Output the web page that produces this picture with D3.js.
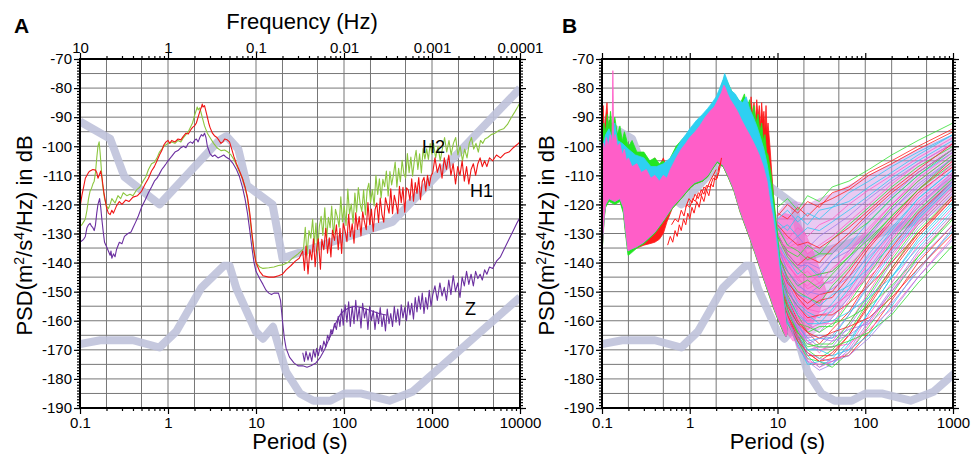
<!DOCTYPE html>
<html>
<head>
<meta charset="utf-8">
<script src="https://cdn.jsdelivr.net/npm/d3@7"></script>
<style>
  body { margin: 0; background: #fff; }
  svg { font-family: "Liberation Sans", Arial, Helvetica, sans-serif; }
</style>
</head>
<body>
<svg id="chart" width="971" height="456"></svg>
<script>
// ---- axis labels ----
const yTicks = [-190, -180, -170, -160, -150, -140, -130, -120, -110, -100, -90, -80, -70];
const periodTicksA = [0.1, 1, 10, 100, 1000, 10000];
const periodLabelsA = ['0.1', '1', '10', '100', '1000', '10000'];
const freqLabelsA = ['10', '1', '0.1', '0.01', '0.001', '0.0001'];
const periodTicksB = [0.1, 1, 10, 100, 1000];
const periodLabelsB = ['0.1', '1', '10', '100', '1000'];

// ---- Peterson noise models (period s, dB) ----
const nlnmPeriod = [0.1, 0.17, 0.4, 0.8, 1.24, 2.4, 4.3, 5, 6, 10, 12, 15.6, 21.9, 31.6, 45, 70, 101, 154, 328, 600, 10000];
const nlnmDb = [-168.0, -166.7, -166.7, -169.2, -163.7, -148.6, -141.1, -141.1, -149.0, -163.8, -166.2, -162.1, -177.5, -185.0, -187.5, -187.5, -185.0, -185.0, -187.5, -184.4, -151.9];
const nhnmPeriod = [0.1, 0.22, 0.32, 0.8, 3.8, 4.6, 6.3, 7.9, 15.4, 20, 354.8, 10000];
const nhnmDb = [-91.5, -97.4, -110.5, -120.0, -98.0, -96.5, -101.0, -113.5, -120.0, -138.5, -126.0, -80.1];

// ---- panel A: H1 (red) ----
const h1 = [[0.1,-121],[0.105,-117],[0.11,-114],[0.115,-111],[0.12,-110],[0.125,-109],[0.13,-108.5],[0.14,-108],[0.15,-108.2],[0.155,-109],[0.16,-111],[0.165,-110],[0.172,-108.5],[0.178,-111],[0.187,-116],[0.2,-121],[0.21,-123],[0.22,-123.5],[0.23,-122],[0.24,-123],[0.26,-120.5],[0.28,-119],[0.3,-120],[0.33,-118.5],[0.36,-119],[0.4,-117.5],[0.45,-117],[0.5,-115.5],[0.55,-113],[0.6,-111],[0.65,-108.5],[0.7,-107],[0.75,-105],[0.8,-103],[0.85,-101.5],[0.9,-99.5],[0.95,-98.5],[1.0,-98],[1.05,-99],[1.1,-98],[1.2,-98.5],[1.3,-97.5],[1.4,-97.8],[1.5,-96.5],[1.6,-95.5],[1.7,-95.8],[1.8,-94.5],[1.9,-93.5],[2.0,-93],[2.1,-92],[2.2,-90],[2.3,-88],[2.4,-86.5],[2.45,-85.5],[2.5,-86.5],[2.6,-86],[2.7,-88],[2.8,-90],[2.9,-92],[3.0,-93.5],[3.2,-95.5],[3.4,-96.5],[3.6,-97],[3.8,-98],[4.0,-99],[4.2,-98.5],[4.4,-97.5],[4.7,-97.8],[5.0,-98.5],[5.3,-101],[5.6,-103.5],[6.0,-106],[6.5,-108.5],[7.0,-111],[7.5,-114],[8.0,-117.5],[8.5,-123],[9.0,-130],[9.5,-136],[10,-140],[11,-143],[12,-144.5],[14,-145],[16,-145],[18,-144.5],[20,-144],[22,-142.5],[25,-141],[28,-139.5],[31,-138.5],
  [34,-136],[35.5,-142.7],[37,-134.3],[39,-143.9],[41,-135.5],[43,-139.1],[45,-131.8],[47,-141.4],[49,-135.1],[51,-131.8],[54,-142.3],[56,-132],[59,-135.6],[62,-128.2],[65,-136.8],[68,-131.5],[71,-138.1],[74,-128.8],[78,-132.4],[82,-127],[86,-135.6],[90,-128.2],[94,-136.9],[98,-126.5],[103,-129.1],[108,-132.8],[113,-123.4],[118,-131.1],[124,-126.7],[130,-133.3],[136,-122.9],[142,-128.6],[149,-124.2],[156,-130.8],[163,-122.5],[171,-126.1],[179,-128.7],[187,-119.4],[196,-127],[205,-121.6],[215,-129.3],[225,-121.9],[236,-119.5],[247,-126.2],[258,-117.8],[270,-123.4],[283,-126.1],[296,-117.7],[310,-120.3],[325,-123],[340,-114.6],[356,-123.2],[373,-116.9],[390,-119.5],[408,-123.2],[427,-113.8],[447,-119.4],[468,-114.1],[490,-122.7],[513,-114.3],[537,-115],[562,-118.6],[588,-111.2],[616,-118.9],[645,-112.5],[675,-116.2],[707,-110.8],[740,-118.4],[775,-112.1],[811,-110.7],[849,-115.4],[889,-110],[931,-113.6],[975,-110.3],
  [1020,-109],[1080,-104],[1150,-109],[1230,-106],[1300,-111],[1380,-104],[1460,-108],[1550,-103],[1640,-110],[1740,-106],[1850,-113],[1960,-107],[2080,-110],[2200,-105],[2330,-112],[2470,-107],[2620,-113],[2780,-108],[2950,-106],[3130,-110],[3320,-106],[3520,-104],[3730,-107],[3960,-105],[4200,-107],[4500,-104],[4900,-105],[5400,-103],[6000,-104],[6700,-102.5],[7500,-102],[8400,-100.5],[9200,-99.5],[10000,-98.5]];

// ---- panel A: H2 (green) ----
const h2 = [[0.1,-127.5],[0.105,-127],[0.11,-126],[0.115,-125],[0.12,-122],[0.125,-118],[0.13,-115.5],[0.135,-114.5],[0.14,-113],[0.145,-112],[0.15,-109],[0.155,-104],[0.16,-100],[0.165,-98.5],[0.169,-102],[0.174,-107],[0.18,-113],[0.19,-118],[0.2,-120.5],[0.21,-121.5],[0.22,-120],[0.23,-118],[0.25,-119.5],[0.27,-117],[0.29,-118],[0.31,-116],[0.34,-117],[0.37,-116.5],[0.4,-117],[0.44,-115],[0.48,-114],[0.52,-112],[0.56,-110.5],[0.6,-108],[0.65,-106],[0.7,-105.5],[0.75,-104],[0.8,-102],[0.85,-101],[0.9,-100],[0.95,-99.5],[1.0,-99],[1.1,-98.5],[1.2,-99],[1.3,-98],[1.4,-98.5],[1.5,-97],[1.6,-96],[1.7,-95],[1.8,-93.5],[1.9,-92],[2.0,-89.5],[2.1,-87.5],[2.15,-86.5],[2.2,-87.5],[2.3,-86.8],[2.4,-89],[2.5,-91],[2.6,-93],[2.8,-95.5],[3.0,-97],[3.3,-99],[3.6,-100.5],[4.0,-101.5],[4.4,-101.3],[4.8,-102],[5.2,-103],[5.6,-104.5],[6.0,-106.5],[6.5,-109],[7.0,-111],[7.5,-114],[8.0,-118],[8.5,-124],[9.0,-131],[9.5,-136.5],[10,-140],[11,-141.5],[12,-142],[14,-141.8],[16,-141.5],[18,-141],[20,-140.8],[23,-140],[26,-138.5],[30,-137],
  [34.7,-135.3],[36.3,-127.9],[38,-137.5],[40,-129],[42,-131.6],[44,-125.1],[46,-133.7],[48,-126.4],[50,-136],[52.5,-127.5],[55,-124.1],[57.5,-130.7],[60.5,-121.2],[63.5,-131.8],[66.5,-124.4],[69.5,-128],[72.5,-120.6],[76,-131.2],[80,-121.7],[84,-124.3],[88,-127.8],[92,-117.4],[96,-126],[100.5,-120.6],[105.5,-127.2],[110.5,-114.7],[115.5,-123.3],[121,-119.9],[127,-126.5],[133,-116.1],[139,-122.7],[145.5,-114.2],[152.5,-119.8],[159.5,-122.4],[167,-115],[175,-123.6],[183,-115.2],[191.5,-112.7],[200.5,-119.3],[210,-114.9],[220,-120.5],[230.5,-110],[241.5,-116.6],[252.5,-111.2],[264,-117.8],[276.5,-111.4],[289.5,-113.9],[303,-108.5],[317.5,-117.1],[332.5,-108.7],[348,-113.3],[364.5,-109.8],[381.5,-105.4],[399,-114],[417.5,-107.6],[437,-112.2],[457.5,-104.8],[479,-109.4],[501.5,-110.9],[525,-102.5],[549.5,-109.1],[575,-103.7],[602,-110.3],[630,-104.9],[660,-101.4],[691,-108],[723,-102.6],[757,-109.2],[793,-100.8],[830,-104.4],[869,-100.9],[910,-104.5],[953,-99.1],[998,-102.7],
  [1040,-99],[1100,-104],[1170,-100],[1240,-105],[1310,-101],[1390,-97],[1470,-102],[1560,-98],[1650,-103],[1750,-99],[1860,-97],[1970,-103],[2090,-100],[2220,-105],[2350,-101],[2500,-104],[2650,-99],[2810,-97],[2980,-101],[3160,-99],[3360,-102],[3560,-98],[3780,-99],[4000,-97.5],[4300,-97],[4700,-96],[5200,-95.5],[5800,-94.5],[6500,-94],[7200,-92.5],[8000,-90],[8800,-88],[9400,-86.5],[10000,-85]];

// ---- panel A: Z (purple), long-window trace and short-window trace ----
const zSmooth = [[0.1,-133],[0.105,-132.5],[0.11,-132],[0.115,-131],[0.12,-128],[0.125,-127],[0.13,-126.5],[0.135,-127.5],[0.14,-128],[0.145,-129],[0.15,-127],[0.155,-123],[0.16,-120],[0.167,-118],[0.172,-121],[0.177,-125],[0.183,-129],[0.19,-133],[0.2,-134.5],[0.21,-136],[0.22,-137.5],[0.225,-136],[0.23,-138.5],[0.24,-137],[0.25,-138],[0.26,-135.5],[0.28,-133],[0.3,-133.5],[0.32,-131],[0.35,-130],[0.38,-129.5],[0.4,-128],[0.43,-126],[0.46,-124],[0.5,-121],[0.55,-118.5],[0.6,-116],[0.65,-114],[0.7,-112],[0.75,-111],[0.8,-109.5],[0.85,-108],[0.9,-107],[0.95,-106],[1.0,-105],[1.1,-103.5],[1.2,-102],[1.3,-101.5],[1.4,-100.5],[1.5,-100],[1.6,-100.5],[1.7,-99],[1.8,-98.5],[1.9,-99],[2.0,-98],[2.1,-97.5],[2.2,-98.5],[2.3,-97],[2.4,-96],[2.5,-96.5],[2.6,-95.5],[2.7,-97],[2.8,-100],[3.0,-102.5],[3.2,-103.5],[3.4,-103],[3.7,-104],[4.0,-103.5],[4.3,-103],[4.6,-103.8],[5.0,-104.5],[5.5,-106],[6.0,-108],[6.5,-110.5],[7.0,-114],[7.5,-118],[8.0,-123],[8.5,-129],[9.0,-135],[9.5,-140],[10,-143],[11,-145.5],[12,-147.5],[13,-149.5],[14,-150.5],[15,-151],[16,-150.5],[17,-150.5],[18,-150.5],[19,-153],[20,-160],[21,-166],[22,-169.5],[24,-172.5],[27,-174.5],[30,-175.5],[34,-175.5],[38,-176],[42,-175.5],[48,-174.5],[54,-172.5],[60,-170],[66,-167],[72,-164.5],[80,-161],[90,-158],[100,-156.5],[115,-155.5],[135,-155],[160,-155.5],[200,-156.5],[250,-157.5],[300,-158]];
const zNoisy = [[34,-171],[35.5,-174],[37,-170.5],[39,-173.5],[41,-171],[43,-174],[45,-170],[47,-172.5],[49,-169.5],[51,-172],[54,-168.5],[56,-170.5],[59,-167],[62,-169],[65,-165],[68,-166.5],[71,-163],[74,-164.5],[78,-161],[82,-163],[86,-158.5],[90,-162],[94,-156],[98,-161.5],[103,-154.5],[108,-160.5],[113,-153.5],[118,-162],[124,-155],[130,-161],[136,-153],[142,-160],[149,-155.5],[156,-162.5],[163,-154],[171,-159],[179,-156],[187,-163],[196,-155],[205,-160],[215,-156.5],[225,-163],[236,-157],[247,-161],[258,-155.5],[270,-162],[283,-158],[296,-163.5],[310,-156],[325,-161],[340,-157.5],[356,-162],[373,-155],[390,-160.5],[408,-156],[427,-161.5],[447,-154.5],[468,-159],[490,-155.5],[513,-160],[537,-153.5],[562,-158],[588,-154],[616,-159.5],[645,-152],[675,-157],[707,-151.5],[740,-156],[775,-150.5],[811,-157.5],[849,-152],[889,-156],[931,-149.5],[975,-155],[1020,-151],[1080,-148],[1150,-153],[1230,-147],[1300,-151.5],[1380,-148.5],[1460,-153],[1550,-146],[1640,-151],[1740,-144.5],[1850,-150],[1960,-147],[2080,-152],[2200,-145],[2330,-148],[2470,-143],[2620,-147.5],[2780,-144],[2950,-148],[3130,-143],[3320,-145.5],[3520,-144],[3730,-146],[3960,-142.5],[4200,-144],[4500,-141.5],[4900,-142],[5400,-139.5],[6000,-138],[6700,-135],[7500,-132],[8400,-129],[9200,-126.5],[10000,-124.5]];

// ---- panel B: envelopes of the short-period blob (period s, dB) ----
const pinkTop = [[0.1,-103],[0.104,-99],[0.108,-101],[0.112,-97],[0.118,-100],[0.124,-96],[0.13,-99],[0.133,-74],[0.136,-98],[0.142,-96],[0.15,-100],[0.16,-99],[0.17,-103],[0.18,-101],[0.19,-105],[0.2,-104],[0.22,-107],[0.25,-106],[0.28,-109],[0.32,-108],[0.36,-111],[0.4,-110],[0.45,-112],[0.5,-110],[0.55,-111],[0.6,-108],[0.7,-104],[0.8,-101],[0.9,-99],[1.0,-97],[1.15,-95],[1.3,-93],[1.5,-90],[1.7,-88],[1.9,-86.5],[2.1,-84],[2.3,-81.5],[2.45,-79],[2.55,-80],[2.7,-82],[2.9,-84],[3.2,-86],[3.5,-88],[3.9,-91],[4.4,-94],[5.0,-97],[5.6,-100],[6.2,-103],[6.9,-107],[7.6,-112],[8.2,-119],[8.8,-124],[9.4,-130],[10,-137],[10.8,-145],[11.6,-153],[12.4,-160],[13,-164]];
const pinkBottom = [[0.1,-136],[0.103,-130],[0.106,-124],[0.11,-120],[0.12,-118],[0.14,-119],[0.16,-118],[0.175,-121],[0.185,-128],[0.198,-136],[0.21,-135.5],[0.25,-134.5],[0.3,-133],[0.4,-129.5],[0.5,-125.5],[0.63,-121],[0.8,-117.5],[1.0,-114],[1.14,-112.5],[1.4,-111.5],[1.6,-110],[1.8,-107.5],[2.05,-105],[2.4,-106.5],[2.73,-110],[3.2,-115],[3.74,-122],[4.3,-127],[4.87,-131.5],[5.5,-136],[6.32,-141.5],[7.2,-146.5],[8.2,-151.3],[9.1,-155.5],[10.1,-159],[11.5,-163],[12.5,-165.5],[13,-164]];
const cyanTop = [[0.1,-101],[0.11,-96],[0.12,-94],[0.13,-97],[0.14,-92],[0.15,-98],[0.17,-99],[0.2,-101],[0.24,-103],[0.3,-104],[0.36,-107],[0.42,-107],[0.5,-106],[0.6,-104],[0.7,-101],[0.8,-98],[0.9,-96],[1.0,-94],[1.2,-91],[1.4,-89],[1.6,-87],[1.8,-85],[2.0,-83],[2.2,-80],[2.4,-77],[2.5,-75],[2.65,-77],[2.8,-79],[3.0,-81],[3.3,-82],[3.6,-84],[4.0,-85],[4.4,-83],[4.8,-87],[5.3,-90],[5.8,-93],[6.4,-97],[7.0,-101],[7.6,-106],[8.2,-112],[8.8,-119],[9.4,-126],[10,-133],[10.8,-142],[11.6,-151],[12.4,-159],[13,-164]];
const greenTop = [[0.1,-99],[0.105,-92],[0.11,-95],[0.115,-89],[0.12,-94],[0.125,-88],[0.13,-93],[0.14,-90],[0.15,-96],[0.16,-93],[0.17,-98],[0.18,-95],[0.2,-100],[0.22,-98],[0.25,-102],[0.3,-102],[0.35,-105],[0.4,-104],[0.45,-106],[0.5,-105],[0.55,-107],[0.6,-104],[0.7,-100],[0.8,-98],[1.0,-95],[1.3,-91],[1.6,-88],[2.0,-84],[2.3,-79],[2.5,-76],[2.7,-78],[3.0,-81],[3.4,-83],[3.8,-85],[4.2,-82],[4.5,-87],[4.8,-84],[5.1,-90],[5.4,-86],[5.7,-92],[6.0,-89],[6.3,-95],[6.6,-92],[6.9,-98],[7.2,-96],[7.5,-102],[7.8,-103],[8.4,-109],[9.0,-117],[9.6,-125],[10.2,-133],[10.9,-142],[11.7,-151],[12.4,-159],[13,-164]];
const greenBottom = [[0.1,-137],[0.103,-131],[0.106,-125],[0.11,-121],[0.12,-119],[0.14,-120],[0.16,-119],[0.175,-123],[0.185,-130],[0.198,-137.5],[0.21,-137],[0.25,-135],[0.3,-133.5],[0.4,-130],[0.5,-126],[0.63,-121.5],[0.8,-118],[1.0,-114.5],[1.14,-113],[1.4,-112],[1.6,-110.5],[1.8,-108],[2.05,-105.5],[2.4,-107],[2.73,-110.5],[3.2,-115.5],[3.74,-122.5],[4.3,-127.5],[4.87,-132],[5.5,-136.5],[6.32,-142],[7.2,-147],[8.2,-152],[9.1,-156],[10.1,-159.5],[11.5,-163.5],[12.5,-165.5],[13,-164]];
const redTop = [[0.1,-97],[0.103,-86],[0.106,-95],[0.11,-90],[0.114,-85],[0.118,-94],[0.122,-91],[0.126,-97],[0.13,-92],[0.135,-99],[0.14,-94],[0.15,-99],[0.16,-95],[0.17,-100],[0.18,-97],[0.2,-102],[0.22,-100],[0.25,-104],[0.3,-103],[0.35,-106],[0.4,-104],[0.45,-107],[0.5,-104],[0.55,-108],[0.6,-105],[0.7,-101],[0.8,-99],[1.0,-96],[1.3,-92],[1.6,-89],[2.0,-85],[2.3,-80],[2.5,-77],[2.7,-79],[3.0,-82],[3.4,-84],[3.8,-86],[4.2,-84],[4.6,-85],[4.8,-91],[5.0,-83],[5.2,-89],[5.4,-85],[5.6,-92],[5.8,-84],[6.0,-90],[6.2,-86],[6.4,-93],[6.6,-85],[6.8,-91],[7.0,-88],[7.2,-94],[7.4,-86],[7.6,-95],[7.8,-92],[8.2,-100],[8.6,-109],[9.0,-117],[9.4,-124],[9.8,-130],[10.4,-138],[11,-145],[11.8,-153],[12.5,-160],[13,-164]];
const redBottom = [[0.1,-136.5],[0.103,-130],[0.106,-124],[0.11,-120.5],[0.12,-118.5],[0.14,-119.5],[0.16,-118.5],[0.175,-122],[0.185,-129],[0.198,-136],[0.21,-136],[0.25,-135],[0.3,-134],[0.35,-133.5],[0.4,-133],[0.45,-132],[0.5,-130],[0.55,-126],[0.63,-121.5],[0.8,-118],[1.0,-114.5],[1.14,-113],[1.4,-112],[1.6,-110.5],[1.8,-108],[2.05,-105.5],[2.4,-107],[2.73,-110.5],[3.2,-115.5],[3.74,-122.5],[4.3,-127.5],[4.87,-132],[5.5,-136.5],[6.32,-142],[7.2,-147],[8.2,-152],[9.1,-156],[10.1,-159.5],[11.5,-163.5],[12.5,-165.5],[13,-164]];

// red traces under the blob
const bRedA = [[0.56,-134],[0.6,-131],[0.64,-133],[0.68,-129],[0.72,-131],[0.76,-127],[0.8,-129],[0.85,-125],[0.9,-127],[0.95,-123],[1.0,-125],[1.06,-121],[1.12,-123],[1.2,-119],[1.28,-121],[1.36,-117],[1.45,-119],[1.55,-115],[1.65,-117],[1.75,-113],[1.85,-114],[1.95,-110],[2.05,-111],[2.15,-107],[2.25,-106]];
const bRedB = [[0.62,-127],[0.68,-125],[0.74,-126],[0.8,-122],[0.86,-124],[0.92,-120],[1.0,-121],[1.08,-118],[1.16,-119],[1.25,-116],[1.35,-117],[1.45,-114],[1.55,-115],[1.7,-112],[1.85,-110],[2.0,-108]];
const bRedC = [[0.9,-121],[0.98,-118],[1.06,-119.5],[1.15,-116.5],[1.25,-118],[1.35,-115],[1.45,-116.5],[1.55,-113.5],[1.7,-114],[1.85,-111],[2.0,-111.5],[2.15,-109],[2.3,-104]];

// ---- panel B: long-period fan ----
const fanCoreTop = [[9.5,-124],[12,-120],[16,-119],[22,-120],[30,-118],[45,-116],[70,-113],[110,-110],[200,-106],[400,-101],[1000,-96]];
const fanCoreBottom = [[9.5,-150],[12,-162],[16,-166],[22,-166],[30,-163],[45,-158],[70,-151],[110,-144],[200,-136],[400,-127],[1000,-118]];
const fanWallTop = [[9.5,-126],[12,-123],[15,-124],[19,-128],[24,-134],[30,-142],[36,-150]];
const fanWallBottom = [[9.5,-150],[12,-163],[15,-167],[19,-166],[24,-162],[30,-157],[36,-150]];
const fanPeriods = [10, 13, 17, 22, 30, 42, 65, 110, 200, 400, 1000];
const fanLines = [
  [-121,-118,-122,-117,-119,-114,-112,-108,-103,-98,-92],
  [-124,-120,-123,-119,-121,-116,-114,-109,-105,-100,-94],
  [-126,-129,-124,-127,-122,-121,-116,-112,-107,-102,-96],
  [-128,-132,-128,-131,-127,-125,-120,-115,-110,-104,-97],
  [-127,-134,-131,-135,-131,-128,-124,-118,-112,-106,-99],
  [-131,-136,-138,-134,-137,-132,-127,-121,-114,-107,-100],
  [-130,-137,-141,-138,-140,-135,-130,-123,-116,-109,-101],
  [-133,-139,-144,-141,-145,-139,-134,-126,-118,-110,-102],
  [-135,-140,-146,-148,-144,-143,-136,-128,-120,-112,-103],
  [-134,-143,-147,-151,-148,-146,-139,-131,-122,-113,-104],
  [-137,-145,-150,-152,-154,-148,-142,-133,-124,-115,-106],
  [-136,-146,-152,-156,-153,-152,-145,-135,-126,-116,-107],
  [-139,-147,-154,-157,-159,-154,-147,-137,-128,-118,-108],
  [-140,-149,-156,-160,-158,-157,-150,-140,-130,-119,-109],
  [-138,-148,-157,-161,-164,-159,-152,-142,-131,-120,-110],
  [-142,-151,-158,-164,-162,-162,-154,-144,-133,-122,-111],
  [-141,-152,-160,-164,-168,-163,-157,-146,-135,-123,-112],
  [-143,-153,-161,-167,-166,-166,-158,-148,-137,-125,-113],
  [-144,-155,-163,-167,-171,-167,-161,-150,-138,-126,-114],
  [-142,-154,-163,-170,-169,-169,-162,-152,-140,-128,-116],
  [-145,-156,-165,-170,-173,-170,-164,-153,-142,-129,-117],
  [-146,-158,-165,-172,-172,-172,-165,-155,-143,-131,-118],
  [-147,-159,-167,-172,-176,-173,-167,-157,-145,-132,-119],
  [-145,-158,-167,-174,-175,-174,-169,-158,-147,-134,-121],
  [-148,-160,-169,-174,-177,-175,-170,-160,-149,-136,-123],
  [-149,-161,-167,-173,-174,-176,-171,-162,-151,-138,-125],
  [-147,-159,-167,-171,-174,-173,-172,-164,-153,-140,-127],
  [-150,-161,-165,-170,-170,-172,-170,-165,-155,-142,-129],
  [-148,-159,-165,-167,-170,-169,-168,-163,-156,-145,-131],
  [-146,-157,-162,-166,-165,-166,-163,-161,-154,-143,-128],
  [-144,-154,-161,-162,-164,-161,-159,-155,-148,-138,-124],
  [-140,-150,-155,-159,-158,-158,-154,-148,-140,-130,-118],
  [-137,-146,-151,-152,-155,-151,-148,-142,-134,-124,-112],
  [-133,-141,-145,-149,-147,-147,-141,-134,-126,-117,-106],
  [-130,-137,-141,-141,-144,-139,-136,-130,-122,-114,-104],
  [-128,-134,-136,-139,-137,-137,-131,-126,-118,-110,-101],
  [-123,-125,-121,-124,-120,-118,-115,-110,-106,-101,-95],
  [-129,-127,-131,-128,-129,-126,-122,-117,-111,-105,-98],
  [-132,-135,-133,-137,-134,-131,-126,-120,-113,-106,-99],
  [-136,-139,-142,-140,-142,-137,-131,-124,-117,-109,-101],
  [-138,-143,-148,-146,-149,-144,-138,-130,-121,-112,-103],
  [-140,-147,-151,-154,-151,-150,-143,-134,-125,-115,-105],
  [-141,-150,-155,-158,-161,-156,-149,-139,-129,-118,-108],
  [-143,-152,-159,-163,-161,-161,-153,-143,-132,-121,-110],
  [-144,-153,-161,-166,-169,-165,-158,-147,-136,-124,-112],
  [-146,-156,-164,-169,-168,-168,-161,-151,-139,-127,-115],
  [-147,-158,-166,-171,-174,-171,-165,-154,-142,-130,-117],
  [-149,-160,-168,-175,-174,-175,-168,-157,-145,-133,-120],
  [-148,-159,-169,-173,-176,-174,-171,-161,-150,-137,-124],
  [-150,-160,-166,-171,-173,-174,-172,-166,-157,-145,-132],
  [-147,-157,-164,-168,-169,-169,-167,-164,-158,-147,-134],
  [-145,-155,-161,-164,-166,-164,-162,-159,-152,-142,-130],
  [-142,-152,-158,-161,-161,-160,-157,-152,-145,-135,-122],
  [-139,-148,-153,-156,-157,-155,-151,-145,-137,-127,-115],
  [-135,-143,-148,-150,-151,-149,-145,-138,-130,-121,-109],
  [-131,-138,-142,-145,-144,-143,-138,-132,-124,-115,-104],
  [-127,-131,-134,-133,-135,-132,-128,-122,-115,-108,-99],
  [-125,-122,-126,-123,-125,-121,-119,-114,-109,-103,-96],
  [-134,-141,-145,-143,-147,-142,-137,-129,-120,-111,-102],
  [-146,-157,-163,-168,-166,-167,-165,-160,-150,-139,-127]
];

const FONT = '"Liberation Sans", Arial, Helvetica, sans-serif';
const fanColors = ['#33e033', '#ff2222', '#2ec8f2', '#ff5cc8', '#a07ce8'];

class PsdPanel {

  constructor(_config) {
    this.config = {
      parentElement: _config.parentElement,
      name: _config.name,
      left: _config.left,
      right: _config.right,
      top: _config.top || 59,
      bottom: _config.bottom || 408,
      xDomain: _config.xDomain,
      xTicks: _config.xTicks,
      xLabels: _config.xLabels,
      topLabels: _config.topLabels || null
    };
    this.initVis();
  }

  initVis() {
    let vis = this;
    const c = vis.config;

    vis.svg = d3.select(c.parentElement);
    vis.xScale = d3.scaleLog().domain(c.xDomain).range([c.left, c.right]);
    vis.yScale = d3.scaleLinear().domain([-190, -70]).range([c.bottom, c.top]);

    vis.svg.append('clipPath').attr('id', 'clip-' + c.name)
      .append('rect')
        .attr('x', c.left).attr('y', c.top)
        .attr('width', c.right - c.left).attr('height', c.bottom - c.top);

    vis.gridG = vis.svg.append('g');
    vis.plot = vis.svg.append('g').attr('clip-path', `url(#clip-${c.name})`);
    vis.axisG = vis.svg.append('g');

    vis.line = d3.line()
        .x(d => vis.xScale(d[0]))
        .y(d => vis.yScale(d[1]));

    // decades, 1-2-5 grid and minor ticks
    vis.decades = c.xTicks;
    vis.gridX = [];
    vis.minorX = [];
    vis.decades.slice(0, -1).forEach(d => {
      [2, 5].forEach(k => vis.gridX.push(k * d));
      for (let k = 2; k <= 9; k++) vis.minorX.push(k * d);
    });
    vis.gridY = d3.range(-185, -70, 5);
    vis.minorY = d3.range(-190, -69, 1);

    vis.drawGrid();
    vis.drawAxes();
  }

  drawGrid() {
    let vis = this;
    const c = vis.config;
    vis.gridG.selectAll('.gy')
        .data(vis.gridY)
      .join('line')
        .attr('x1', c.left).attr('x2', c.right)
        .attr('y1', d => vis.yScale(d)).attr('y2', d => vis.yScale(d))
        .attr('stroke', '#777').attr('stroke-width', 1);
    vis.gridG.selectAll('.gx')
        .data(vis.gridX.concat(vis.decades.slice(1, -1)))
      .join('line')
        .attr('x1', d => vis.xScale(d)).attr('x2', d => vis.xScale(d))
        .attr('y1', c.top).attr('y2', c.bottom)
        .attr('stroke', '#777').attr('stroke-width', 1);
  }

  drawModels() {
    let vis = this;
    const models = [nlnmPeriod.map((p, i) => [p, nlnmDb[i]]), nhnmPeriod.map((p, i) => [p, nhnmDb[i]])];
    vis.plot.selectAll('.model')
        .data(models)
      .join('path')
        .attr('class', 'model')
        .attr('d', vis.line)
        .attr('fill', 'none')
        .attr('stroke', '#bfc2da')
        .attr('stroke-opacity', 0.9)
        .attr('stroke-width', 8)
        .attr('stroke-linejoin', 'round');
  }

  addLine(data, color, width) {
    let vis = this;
    vis.plot.append('path')
        .datum(data)
        .attr('d', vis.line)
        .attr('fill', 'none')
        .attr('stroke', color)
        .attr('stroke-width', width)
        .attr('stroke-linejoin', 'round');
  }

  addBand(top, bottom, color, opacity) {
    let vis = this;
    const poly = top.concat(bottom.slice().reverse());
    vis.plot.append('path')
        .datum(poly)
        .attr('d', d => vis.line(d) + 'Z')
        .attr('fill', color)
        .attr('fill-opacity', opacity)
        .attr('stroke', color)
        .attr('stroke-opacity', opacity)
        .attr('stroke-width', 0.8);
  }

  drawAxes() {
    let vis = this;
    const c = vis.config;
    const g = vis.axisG;

    const styleAxis = sel => {
      sel.select('.domain').remove();
      sel.selectAll('line').attr('stroke-width', 1.2);
      sel.selectAll('text').attr('font-size', 15).attr('font-family', FONT).attr('fill', '#000');
    };

    // bottom
    g.append('g').attr('transform', `translate(0,${c.bottom})`)
        .call(d3.axisBottom(vis.xScale).tickValues(vis.minorX).tickSize(3).tickFormat(''))
        .call(styleAxis);
    g.append('g').attr('transform', `translate(0,${c.bottom})`)
        .call(d3.axisBottom(vis.xScale).tickValues(c.xTicks).tickSize(6).tickPadding(3)
          .tickFormat((d, i) => c.xLabels[i]))
        .call(styleAxis);

    // top
    g.append('g').attr('transform', `translate(0,${c.top})`)
        .call(d3.axisTop(vis.xScale).tickValues(vis.minorX).tickSize(3).tickFormat(''))
        .call(styleAxis);
    g.append('g').attr('transform', `translate(0,${c.top})`)
        .call(d3.axisTop(vis.xScale).tickValues(c.xTicks).tickSize(6).tickPadding(0)
          .tickFormat((d, i) => c.topLabels ? c.topLabels[i] : ''))
        .call(styleAxis);

    // left and right
    [['axisLeft', c.left], ['axisRight', c.right]].forEach(([fn, x]) => {
      g.append('g').attr('transform', `translate(${x},0)`)
          .call(d3[fn](vis.yScale).tickValues(vis.minorY).tickSize(3).tickFormat(''))
          .call(styleAxis);
      g.append('g').attr('transform', `translate(${x},0)`)
          .call(d3[fn](vis.yScale).tickValues(yTicks).tickSize(6).tickPadding(2)
            .tickFormat(d => fn === 'axisLeft' ? d : ''))
          .call(styleAxis);
    });

    // frame
    g.append('rect')
        .attr('x', c.left).attr('y', c.top)
        .attr('width', c.right - c.left).attr('height', c.bottom - c.top)
        .attr('fill', 'none').attr('stroke', '#000').attr('stroke-width', 2);

    // y title
    const cy = (c.top + c.bottom) / 2 + 2;
    const yt = vis.svg.append('text')
        .attr('transform', `translate(${c.left - 48},${cy}) rotate(-90)`)
        .attr('text-anchor', 'middle')
        .attr('font-size', 22).attr('font-family', FONT);
    yt.append('tspan').text('PSD(m');
    yt.append('tspan').text('2').attr('font-size', 14).attr('dy', -8);
    yt.append('tspan').text('/s').attr('dy', 8);
    yt.append('tspan').text('4').attr('font-size', 14).attr('dy', -8);
    yt.append('tspan').text('/Hz) in dB').attr('dy', 8);

    // x title
    vis.svg.append('text')
        .attr('x', (c.left + c.right) / 2).attr('y', 449)
        .attr('text-anchor', 'middle')
        .attr('font-size', 22).attr('font-family', FONT)
        .text('Period (s)');
  }
}

const svg = d3.select('#chart');

// ---- panel A ----
const panelA = new PsdPanel({
  parentElement: '#chart', name: 'a',
  left: 80, right: 520,
  xDomain: [0.1, 10000], xTicks: periodTicksA, xLabels: periodLabelsA, topLabels: freqLabelsA
});
panelA.drawModels();
panelA.addLine(zSmooth, '#6b2fa0', 1.1);
panelA.addLine(zNoisy, '#6b2fa0', 1.1);
panelA.addLine(h2, '#8cc63f', 1.1);
panelA.addLine(h1, '#f01414', 1.1);

[['H2', 422, 153], ['H1', 470, 197], ['Z', 465, 315]].forEach(([t, x, y]) => {
  svg.append('text').attr('x', x).attr('y', y)
    .attr('font-size', 18).attr('font-family', FONT).text(t);
});

svg.append('text').attr('x', 302).attr('y', 29).attr('text-anchor', 'middle')
  .attr('font-size', 22).attr('font-family', FONT).text('Frequency (Hz)');
svg.append('text').attr('x', 14).attr('y', 33)
  .attr('font-size', 21).attr('font-weight', 'bold').attr('font-family', FONT).text('A');

// ---- panel B ----
const panelB = new PsdPanel({
  parentElement: '#chart', name: 'b',
  left: 602, right: 953,
  xDomain: [0.1, 1000], xTicks: periodTicksB, xLabels: periodLabelsB
});
panelB.drawModels();
panelB.addBand(fanCoreTop, fanCoreBottom, '#cf8ae2', 0.45);
panelB.addBand(fanWallTop, fanWallBottom, '#ff5ec8', 0.55);
fanLines.forEach((vals, i) => {
  panelB.addLine(fanPeriods.map((p, j) => [p, vals[j]]), fanColors[i % fanColors.length], 0.8);
});
panelB.addBand(redTop, redBottom, '#ff1a1a', 1);
panelB.addBand(greenTop, greenBottom, '#22e622', 1);
panelB.addBand(cyanTop, pinkBottom, '#2ed0f2', 1);
panelB.addBand(pinkTop, pinkBottom, '#ff5ec8', 1);
[bRedA, bRedB, bRedC].forEach(d => panelB.addLine(d, '#ff1a1a', 1));

svg.append('text').attr('x', 562).attr('y', 33)
  .attr('font-size', 21).attr('font-weight', 'bold').attr('font-family', FONT).text('B');
</script>
</body>
</html>
